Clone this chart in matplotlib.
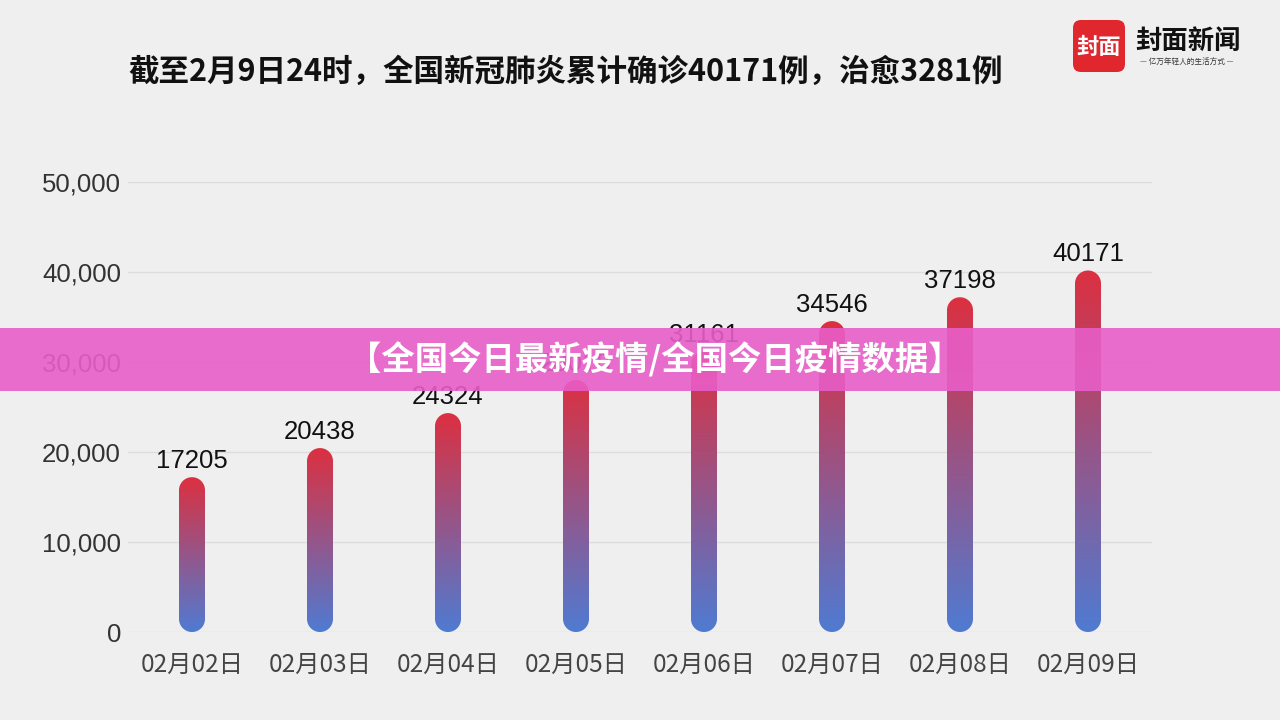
"""Cumulative confirmed cases bar chart with gradient rounded bars."""

import matplotlib
matplotlib.use("Agg")
import matplotlib.pyplot as plt
from matplotlib.colors import LinearSegmentedColormap
from matplotlib.patches import FancyBboxPatch, PathPatch, Rectangle
from matplotlib.path import Path
import numpy as np

plt.rcParams['font.family'] = ['Noto Sans CJK SC', 'DejaVu Sans']

dates = ["02月02日", "02月03日", "02月04日", "02月05日",
         "02月06日", "02月07日", "02月08日", "02月09日"]
confirmed = [17205, 20438, 24324, 28018, 31161, 34546, 37198, 40171]
y_ticks = [0, 10000, 20000, 30000, 40000, 50000]

title = "截至2月9日24时，全国新冠肺炎累计确诊40171例，治愈3281例"
banner = "【全国今日最新疫情/全国今日疫情数据】"

bg = "#efefef"
num_font = ['Liberation Sans', 'DejaVu Sans']


def pill_path(xc, top, rx, ry):
    """Capsule outline from 0 to top, with elliptical caps (round on screen)."""
    t_top = np.linspace(0, np.pi, 40)
    t_bot = np.linspace(np.pi, 2 * np.pi, 40)
    xs = np.concatenate([xc + rx * np.cos(t_top), xc + rx * np.cos(t_bot)])
    ys = np.concatenate([top - ry + ry * np.sin(t_top), ry + ry * np.sin(t_bot)])
    verts = np.column_stack([xs, ys])
    verts = np.vstack([verts, verts[:1]])
    codes = [Path.MOVETO] + [Path.LINETO] * (len(verts) - 2) + [Path.CLOSEPOLY]
    return Path(verts, codes)


def main():
    fig = plt.figure(figsize=(12.8, 7.2), dpi=100, facecolor=bg)
    ax = fig.add_axes([0.1, 0.1222, 0.8, 0.625], facecolor=bg)

    cmap = LinearSegmentedColormap.from_list("rb", ["#4f7bd2", "#dc3040"])
    grad = np.linspace(0, 1, 256).reshape(-1, 1)

    # bar width 26px; axes is 1024px for 8 units and 450px for 50000
    bar_w = 26 / 128
    rx = bar_w / 2
    ry = 13 * 50000 / 450

    for i, v in enumerate(confirmed):
        x0 = i - bar_w / 2
        im = ax.imshow(grad, extent=[x0, x0 + bar_w, 0, v], origin='lower',
                       aspect='auto', cmap=cmap, zorder=3)
        clip = PathPatch(pill_path(i, v, rx, ry), transform=ax.transData,
                         facecolor="none", edgecolor="none")
        ax.add_patch(clip)
        im.set_clip_path(clip)
        ax.annotate(str(v), (i, v), xytext=(0, 3), textcoords="offset points",
                    ha="center", va="bottom", fontsize=18.5, color="#111111",
                    family=num_font, zorder=4)

    ax.set_xlim(-0.5, len(dates) - 0.5)
    ax.set_ylim(0, 50000)
    ax.set_xticks(range(len(dates)))
    ax.set_xticklabels(dates, fontsize=17.5, color="#444444")
    ax.set_yticks(y_ticks)
    ax.set_yticklabels([f"{t:,}" for t in y_ticks], fontsize=18.5,
                       color="#333333", family=num_font)
    ax.tick_params(length=0)
    ax.tick_params(axis='x', pad=14)
    ax.tick_params(axis='y', pad=5)
    for s in ax.spines.values():
        s.set_visible(False)
    ax.grid(axis='y', color="#dcdcdc", linewidth=1, zorder=0)
    ax.set_axisbelow(True)

    fig.text(0.1, 1 - 72 / 720, title, fontsize=22, fontweight="bold",
             color="#111111", ha="left", va="center")

    # logo
    lax = fig.add_axes([1073 / 1280, (720 - 72) / 720, 52 / 1280, 52 / 720])
    lax.set_xlim(0, 52)
    lax.set_ylim(0, 52)
    lax.axis("off")
    lax.add_patch(FancyBboxPatch((0, 0), 52, 52,
                                 boxstyle="round,pad=0,rounding_size=8",
                                 facecolor="#e0272e", edgecolor="none"))
    lax.text(26, 25, "封面", color="white", fontsize=16, fontweight="bold",
             ha="center", va="center")
    fig.text(1135 / 1280, 1 - 41 / 720, "封面新闻", fontsize=19,
             fontweight="bold", color="#111111", ha="left", va="center")
    fig.text(1187 / 1280, 1 - 62 / 720, "— 亿万年轻人的生活方式 —", fontsize=5.5,
             color="#333333", ha="center", va="center")

    # overlay banner
    fig.add_artist(Rectangle((0, (720 - 391) / 720), 1, 63 / 720,
                             transform=fig.transFigure, facecolor="#e85ec8",
                             edgecolor="none", alpha=0.9, zorder=10))
    fig.text(655 / 1280, 1 - 360 / 720, banner, fontsize=24, fontweight="bold",
             color="white", ha="center", va="center", zorder=11)

    fig.savefig("out.png", dpi=100, facecolor=bg)


if __name__ == "__main__":
    main()
